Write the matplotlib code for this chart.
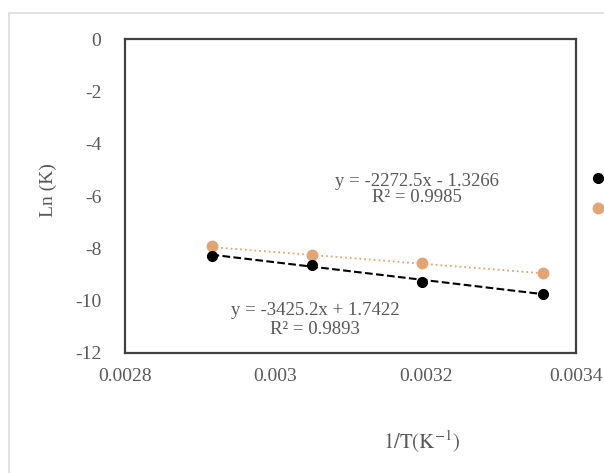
import matplotlib
matplotlib.use("Agg")
import matplotlib.pyplot as plt
from matplotlib.patches import Rectangle
import numpy as np

plt.rcParams['font.family'] = ['Liberation Serif', 'DejaVu Serif']
plt.rcParams['mathtext.fontset'] = 'stix'
plt.rcParams['axes.unicode_minus'] = False

# 1/T values (K^-1) and ln(K)
inv_T = [0.002915, 0.003048, 0.003195, 0.003356]
lnK_black = [-8.28, -8.65, -9.28, -9.74]
lnK_orange = [-7.92, -8.27, -8.57, -8.93]

# trendline coefficients as printed on the chart
fit_black = (-3425.2, 1.7422, 0.9893)
fit_orange = (-2272.5, -1.3266, 0.9985)

x_ticks = [0.0028, 0.003, 0.0032, 0.0034]
x_tick_labels = ["0.0028", "0.003", "0.0032", "0.0034"]
y_ticks = [0, -2, -4, -6, -8, -10, -12]

black = "#000000"
orange = "#E3A474"
grey_txt = "#595959"

fig = plt.figure(figsize=(6.04, 4.73), dpi=100)
ax = fig.add_axes([0.207, 0.2537, 0.747, 0.6638])

# outer chart frame (light grey)
fig.patches.append(Rectangle((0.015, -0.01), 1.2, 0.9825, transform=fig.transFigure,
                             fill=False, edgecolor="#dcdcdc", linewidth=1.2))

xs = np.array([inv_T[0], inv_T[-1]])
ax.plot(xs, fit_orange[0] * xs + fit_orange[1], linestyle=":", color=orange, linewidth=1.3)
ax.plot(xs, fit_black[0] * xs + fit_black[1], linestyle="--", color=black, linewidth=1.5)
ax.plot(inv_T, lnK_orange, "o", color=orange, markersize=7.5, zorder=3)
ax.plot(inv_T, lnK_black, "o", color=black, markersize=7, zorder=4)

ax.text(0.003188, -5.75,
        f"y = {fit_orange[0]}x - {abs(fit_orange[1])}\nR\u00b2 = {fit_orange[2]}",
        ha="center", va="center", fontsize=13.5, color=grey_txt, linespacing=0.95,
        multialignment="center")
ax.text(0.003053, -10.74,
        f"y = {fit_black[0]}x + {fit_black[1]}\nR\u00b2 = {fit_black[2]}",
        ha="center", va="center", fontsize=13.5, color=grey_txt, linespacing=1.1,
        multialignment="center")

ax.set_xlim(0.0028, 0.0034)
ax.set_ylim(-12, 0)
ax.set_xticks(x_ticks)
ax.set_xticklabels(x_tick_labels)
ax.set_yticks(y_ticks)
ax.tick_params(length=0, labelsize=14, colors=grey_txt)
ax.tick_params(axis="x", pad=11)
ax.tick_params(axis="y", pad=17)
for s in ax.spines.values():
    s.set_color("#404040")
    s.set_linewidth(1.6)

fig.text(0.08, 0.598, "Ln (K)", rotation=90, ha="center", va="center", fontsize=14, color=grey_txt)
fig.text(0.699, 0.066, r"$\mathrm{1/T(K^{-1})}$", ha="center", va="center", fontsize=15, color=grey_txt)

# legend, mostly cut off at right edge in the reference
h1, = ax.plot([], [], "o", color=black, markersize=7)
h2, = ax.plot([], [], "o", color=orange, markersize=7.5)
fig.legend([h1, h2], ["", ""], loc="center left", bbox_to_anchor=(0.975, 0.589),
           frameon=False, handlelength=0.5, labelspacing=1.2, borderaxespad=0)

fig.savefig("out.png", dpi=100)
